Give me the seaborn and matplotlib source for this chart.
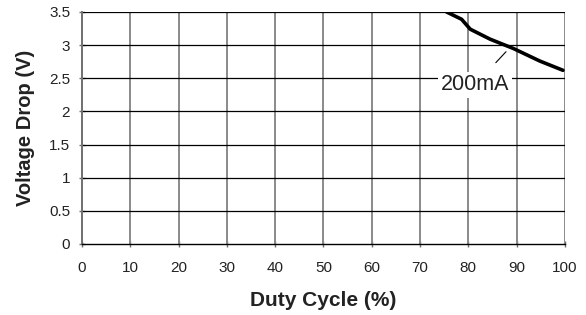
import matplotlib
matplotlib.use("Agg")
import matplotlib.pyplot as plt
import seaborn as sns
import pandas as pd

duty_cycle = [75.5, 78.6, 80.4, 84.5, 89.3, 94.8, 99.6]
voltage_drop = [3.50, 3.39, 3.24, 3.09, 2.95, 2.76, 2.62]
x_ticks = [0, 10, 20, 30, 40, 50, 60, 70, 80, 90, 100]
y_ticks = [0, 0.5, 1, 1.5, 2, 2.5, 3, 3.5]
y_tick_labels = ["0", "0.5", "1", "1.5", "2", "2.5", "3", "3.5"]

sns.set_style("white")
plt.rcParams['font.family'] = ['Liberation Sans', 'DejaVu Sans']

fig = plt.figure(figsize=(5.86, 3.15), dpi=100)
ax = fig.add_axes([0.14, 0.2254, 0.824, 0.7366])

df = pd.DataFrame({"duty": duty_cycle, "v": voltage_drop})
sns.lineplot(data=df, x="duty", y="v", ax=ax, color="black", linewidth=2.6, zorder=5)

ax.set_xlim(0, 100)
ax.set_ylim(0, 3.5)
ax.set_xticks(x_ticks)
ax.set_xticklabels([str(t) for t in x_ticks])
ax.set_yticks(y_ticks)
ax.set_yticklabels(y_tick_labels)

for t in x_ticks[1:]:
    ax.axvline(t, color="#8a8a8a", linewidth=1.4, zorder=1)
for t in y_ticks[1:]:
    ax.axhline(t, color="black", linewidth=0.9, zorder=2)

for s in ["top", "right"]:
    ax.spines[s].set_visible(False)
ax.spines["left"].set_color("#707070")
ax.spines["left"].set_linewidth(1.4)
ax.spines["bottom"].set_color("black")
ax.spines["bottom"].set_linewidth(1.0)

ax.tick_params(axis="both", which="major", direction="inout", length=5, width=1,
               labelsize=11, color="#707070", bottom=True, left=True,
               labelcolor="#222222")
ax.tick_params(axis="y", pad=6)
ax.tick_params(axis="x", pad=10)

ax.set_xlabel("Duty Cycle (%)", fontsize=15, fontweight="bold", labelpad=11,
              color="#222222")
ax.set_ylabel("Voltage Drop (V)", fontsize=14.5, fontweight="bold", labelpad=10,
              color="#222222")

ax.annotate("200mA", xy=(87.8, 2.90), xytext=(81.4, 2.40), fontsize=15.5,
            ha="center", va="center", zorder=6, color="#222222",
            bbox=dict(boxstyle="square,pad=0.12", fc="white", ec="none"),
            arrowprops=dict(arrowstyle="-", color="black", lw=0.8,
                            shrinkA=9, shrinkB=0))

fig.savefig("out.png", dpi=100)
